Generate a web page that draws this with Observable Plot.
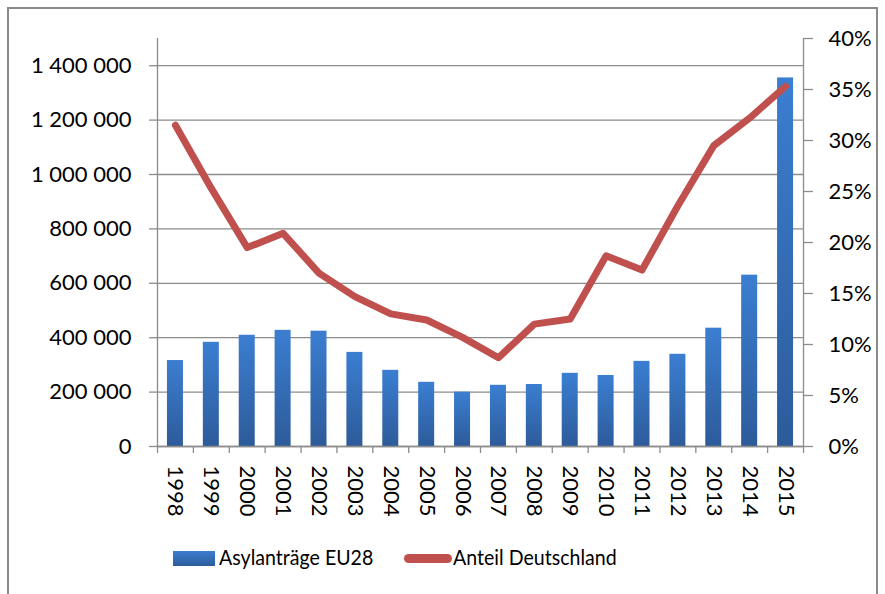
<!DOCTYPE html>
<html>
<head>
<meta charset="utf-8">
<script src="https://cdn.jsdelivr.net/npm/d3@7"></script>
<script src="https://cdn.jsdelivr.net/npm/@observablehq/plot@0.6"></script>
<style>
  html, body { margin: 0; padding: 0; background: #fff; }
  #wrap { position: relative; width: 885px; height: 594px; overflow: hidden; font-family: Lato, "Open Sans", sans-serif; }
  #border { position: absolute; left: 7px; top: 7px; width: 871px; height: 590px; border: 2px solid #8a8a8a; box-sizing: border-box; }
  #chart { position: absolute; left: 0; top: 0; }
  .sw-bar { position: absolute; left: 173px; top: 551px; width: 42px; height: 15px; background: linear-gradient(#3B7DD0, #2D5C9C); }
  .sw-line { position: absolute; left: 404px; top: 554px; width: 48px; height: 9px; border-radius: 5px; background: #C0504D; }
  .lt { position: absolute; top: 544px; font-size: 22px; line-height: 26px; white-space: nowrap; transform: scaleX(0.89); transform-origin: 0 50%; color: #000; }
</style>
</head>
<body>
<div id="wrap">
  <div id="border"></div>
  <div id="chart"></div>
  <div class="sw-bar"></div>
  <div class="lt" style="left:219px">Asylanträge EU28</div>
  <div class="sw-line"></div>
  <div class="lt" style="left:453px">Anteil Deutschland</div>
</div>
<script>
const years = [1998, 1999, 2000, 2001, 2002, 2003, 2004, 2005, 2006, 2007, 2008, 2009, 2010, 2011, 2012, 2013, 2014, 2015];
const applicationsEU28 = [316000, 383000, 409000, 427000, 424000, 346000, 280000, 236000, 200000, 225000, 228000, 269000, 261000, 313000, 339000, 435000, 630000, 1355000];
const shareGermany = [31.5, 25.3, 19.5, 20.9, 17.0, 14.7, 13.0, 12.4, 10.7, 8.7, 12.0, 12.5, 18.7, 17.3, 23.6, 29.5, 32.2, 35.3];
const leftTicks = [0, 200000, 400000, 600000, 800000, 1000000, 1200000, 1400000];
const rightTicks = [0, 5, 10, 15, 20, 25, 30, 35, 40];

const leftMax = 1500000;
const rightMax = 40;
const toLeft = p => p / rightMax * leftMax;

const data = years.map((y, i) => ({year: y, apps: applicationsEU28[i], share: shareGermany[i]}));
const fmt = d3.formatLocale({thousands: "\u00a0", grouping: [3], decimal: ","}).format(",");
const boundaries = d3.range(years.length + 1).map(i => years[0] - 0.5 + i);
const halfBar = 0.223;

const plot = Plot.plot({
  width: 885,
  height: 530,
  marginLeft: 157,
  marginRight: 82,
  marginTop: 38,
  marginBottom: 84,
  style: {fontFamily: "Lato, 'Open Sans', sans-serif", fontSize: "22px", color: "#000", background: "transparent", overflow: "visible"},
  x: {domain: [years[0] - 0.5, years[years.length - 1] + 0.5], axis: null, label: null},
  y: {domain: [0, leftMax], axis: null, label: null},
  marks: [
    Plot.gridY(leftTicks, {stroke: "#8c8c8c", strokeOpacity: 1, strokeWidth: 1.3}),
    Plot.rectY(data, {x1: d => d.year - halfBar, x2: d => d.year + halfBar, y: "apps", fill: "url(#barGrad)"}),
    Plot.ruleX([years[0] - 0.5, years[years.length - 1] + 0.5], {y1: 0, y2: leftMax, stroke: "#8c8c8c", strokeWidth: 1.3}),
    Plot.ruleY([0], {stroke: "#8c8c8c", strokeWidth: 1.3}),
    Plot.axisY(leftTicks, {anchor: "left", label: null, tickSize: 8, tickPadding: 18, tickFormat: fmt, stroke: "#8c8c8c", strokeWidth: 1.3, fill: "#000"}),
    Plot.axisY(rightTicks.map(toLeft), {anchor: "right", label: null, tickSize: 9, tickPadding: 16, tickFormat: v => Math.round(v / leftMax * rightMax) + "%", stroke: "#8c8c8c", strokeWidth: 1.3, fill: "#000"}),
    Plot.axisX(boundaries, {anchor: "bottom", label: null, tickSize: 7, tickFormat: () => "", stroke: "#8c8c8c", strokeWidth: 1.3}),
    Plot.axisX(years, {anchor: "bottom", label: null, tickSize: 0, tickPadding: 19, tickRotate: 90, tickFormat: d => String(d), fill: "#000"}),
    Plot.line(data, {x: "year", y: d => toLeft(d.share), stroke: "#C0504D", strokeWidth: 7, strokeLinecap: "round", strokeLinejoin: "round"})
  ]
});

const ns = "http://www.w3.org/2000/svg";
const defs = document.createElementNS(ns, "defs");
defs.innerHTML = '<linearGradient id="barGrad" x1="0" y1="0" x2="0" y2="1"><stop offset="0" stop-color="#3B7ED1"/><stop offset="1" stop-color="#2D5B9A"/></linearGradient>';
plot.insertBefore(defs, plot.firstChild);
document.getElementById("chart").appendChild(plot);
</script>
</body>
</html>
